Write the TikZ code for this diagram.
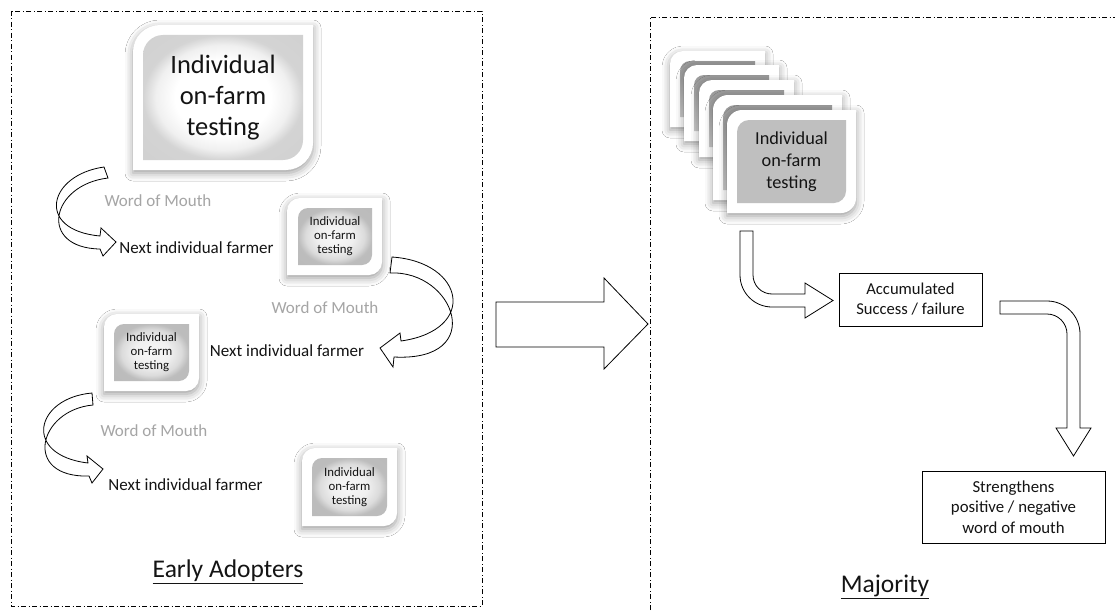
\documentclass[tikz,border=0pt]{standalone}
\usepackage{fontspec}
\setmainfont{Carlito}
\usetikzlibrary{shadows.blur}
\definecolor{womgray}{RGB}{165,165,165}
\definecolor{txtblack}{RGB}{20,20,20}
\pgfdeclareradialshading{glowbig}{\pgfpoint{0bp}{0bp}}{color(0bp)=(white); color(15bp)=(white); color(21bp)=(black!6); color(25bp)=(black!17); color(50bp)=(black!20)}
\pgfdeclareradialshading{glowsmall}{\pgfpoint{0bp}{0bp}}{color(0bp)=(black!3); color(12bp)=(black!6); color(20bp)=(black!14); color(25bp)=(black!26); color(50bp)=(black!28)}
% leaf-shaped tile: options, x1, y1, x2, y2, corner radius (y grows downward)
\newcommand{\leafshape}[6]{\path[#1] (#2,#3+#6) .. controls (#2,#3+0.45*#6) and (#2+0.45*#6,#3) .. (#2+#6,#3) -- (#4,#3) -- (#4,#5-#6) .. controls (#4,#5-0.45*#6) and (#4-0.45*#6,#5) .. (#4-#6,#5) -- (#2,#5) -- cycle;}
\begin{document}
\begin{tikzpicture}[x=1pt,y=-1pt,
  txt/.style={inner sep=0pt, align=center, text=txtblack},
  border/.style={line width=0.8pt, dash pattern=on 5pt off 2.5pt on 1pt off 2.5pt},
  blk/.style={draw=black, fill=white, line width=0.8pt, line join=miter},
  tileshadow/.style={fill=white, blur shadow={shadow xshift=0pt, shadow yshift=-3pt, shadow blur radius=8pt, shadow opacity=40}},
  bigfont/.style={font=\fontsize{26.5}{31}\selectfont},
  smallfont/.style={font=\fontsize{12.8}{14}\selectfont},
  midfont/.style={font=\fontsize{18.3}{22}\selectfont},
  womfont/.style={font=\fontsize{17}{20}\selectfont, text=womgray},
  nextfont/.style={font=\fontsize{17}{20}\selectfont},
  boxfont/.style={font=\fontsize{16.6}{20}\selectfont},
  titlefont/.style={font=\fontsize{25.5}{30}\selectfont},
  tbox/.style={draw=black, line width=0.8pt, fill=white}]
\useasboundingbox (0,0) rectangle (1115,610);
\fill[white] (0,0) rectangle (1115,610);

% panel borders
\draw[border] (11,11) rectangle (482,606);
\draw[border] (650,610) -- (650,17) -- (1115,17);

% ---------- Early adopters ----------
% big tile
\leafshape{tileshadow}{133}{25}{313}{170}{27}
\leafshape{shading=glowbig}{143}{35}{303}{160}{20}
\node[txt, bigfont] (big) at (223,98) {Individual\\on-farm\\testing};

% small tile 1
\leafshape{tileshadow}{287}{198}{382}{275}{13}
\leafshape{shading=glowsmall}{298}{208}{372}{265}{10}
\node[txt, smallfont] (t1) at (335,236.5) {Individual\\on-farm\\testing};

% small tile 2
\leafshape{tileshadow}{104}{314}{199}{391}{13}
\leafshape{shading=glowsmall}{114}{324}{189}{381}{10}
\node[txt, smallfont] (t2) at (151.5,352.5) {Individual\\on-farm\\testing};

% small tile 3
\leafshape{tileshadow}{302}{448}{397}{526}{13}
\leafshape{shading=glowsmall}{312}{458}{387}{516}{10}
\node[txt, smallfont] (t3) at (349.5,487) {Individual\\on-farm\\testing};

% curved arrows
\draw[blk] (104,167) .. controls (48,175) and (35,230) .. (100,236) -- (101,228) -- (116,242) -- (103,256) -- (100,249) .. controls (38,248) and (50,185) .. (108,178) -- cycle;
\draw[blk] (392,257) .. controls (465,262) and (478,330) .. (401,341) -- (400,333) -- (380,348) -- (393,367) -- (394,357) .. controls (488,362) and (455,270) .. (390,273) -- cycle;
\draw[blk] (92,393) .. controls (35,398) and (22,455) .. (88,463) -- (87,456) -- (103,469) -- (92,483) -- (89,476) .. controls (22,478) and (38,410) .. (93,405) -- cycle;

% labels
\node[txt, womfont] (w1) at (158,201) {Word of Mouth};
\node[txt, womfont] (w2) at (325,308) {Word of Mouth};
\node[txt, womfont] (w3) at (154,431) {Word of Mouth};
\node[txt, nextfont] (n1) at (196.5,248) {Next individual farmer};
\node[txt, nextfont] (n2) at (287,351) {Next individual farmer};
\node[txt, nextfont] (n3) at (185.5,485) {Next individual farmer};
\node[txt, titlefont] (ea) at (228,572) {\underline{Early Adopters}};

% ---------- big transition arrow ----------
\draw[blk] (496,302) -- (604,302) -- (604,278) -- (648,324) -- (604,369) -- (604,347) -- (496,347) -- cycle;

% ---------- Majority ----------
% stacked tiles (back to front)
\leafshape{tileshadow}{670}{51}{765}{127}{13}
\leafshape{shade, top color=black!40, bottom color=black!20}{680}{61}{755}{117}{10}
\leafshape{tileshadow}{684}{65}{779}{141}{13}
\leafshape{shade, top color=black!40, bottom color=black!20}{694}{75}{769}{131}{10}
\leafshape{tileshadow}{699}{80}{794}{157}{13}
\leafshape{shade, top color=black!40, bottom color=black!20}{709}{90}{784}{147}{10}
\leafshape{tileshadow}{713}{95}{842}{200}{15}
\leafshape{shade, top color=black!40, bottom color=black!20}{723}{105}{832}{190}{12}
\leafshape{tileshadow}{727}{110}{856}{213}{15}
\leafshape{fill=black!25}{737}{120}{846}{203}{12}
\node[txt, midfont] (front) at (791.5,161.5) {Individual\\on-farm\\testing};

% bent arrow to Accumulated
\draw[blk] (753,231) -- (753,275) .. controls (753,285.5) and (761.5,294) .. (772,294) -- (805,294) -- (805,283) -- (833,300.5) -- (805,318) -- (805,307) -- (772,307) .. controls (754.3,307) and (740,292.7) .. (740,275) -- (740,231) -- cycle;

\node[tbox, minimum width=143pt, minimum height=53pt, inner sep=0pt] (acc) at (910.5,299.5) {};
\node[txt, boxfont] (acct) at (acc.center) {Accumulated\\Success / failure};

% bent arrow down to Strengthens
\draw[blk] (1000,301) -- (1047,301) .. controls (1065.2,301) and (1080,315.8) .. (1080,334) -- (1080,428) -- (1091,428) -- (1073.5,456) -- (1056,428) -- (1067,428) -- (1067,334) .. controls (1067,323) and (1058,314) .. (1047,314) -- (1000,314) -- cycle;

\node[tbox, minimum width=183pt, minimum height=72pt, inner sep=0pt] (str) at (1013.5,507) {};
\node[txt, font=\fontsize{16.8}{20.5}\selectfont] (strt) at (str.center) {Strengthens\\positive / negative\\word of mouth};

\node[txt, titlefont] (maj) at (885,587) {\underline{Majority}};
\end{tikzpicture}
\end{document}
